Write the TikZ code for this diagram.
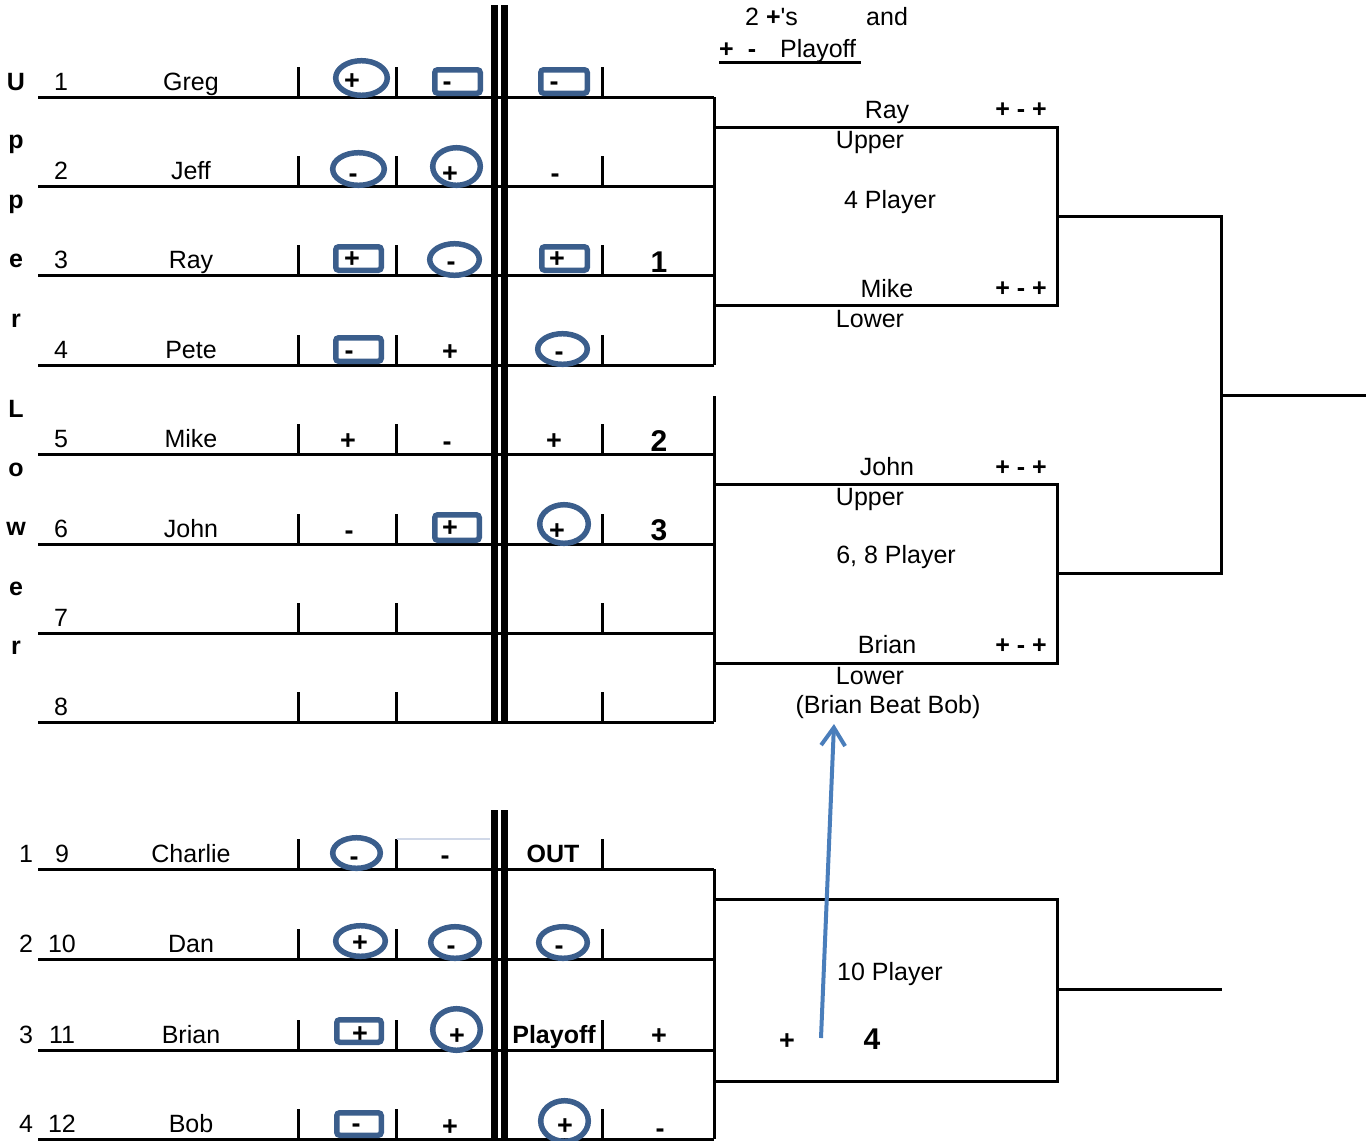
\documentclass[tikz,border=0pt]{standalone}
\usepackage{fontspec}
\setmainfont{Liberation Sans}[Ligatures=TeXOff]
\usetikzlibrary{arrows.meta}
\definecolor{mk}{RGB}{59,94,140}
\definecolor{arr}{RGB}{74,126,187}
\definecolor{faint}{RGB}{208,216,232}
\begin{document}
\begin{tikzpicture}[x=1pt,y=-1pt,
  txt/.style={font=\fontsize{25}{30}\selectfont, inner sep=0pt, anchor=base},
  btxt/.style={font=\fontsize{25}{30}\selectfont\bfseries, inner sep=0pt, anchor=base},
  sgnt/.style={font=\fontsize{27}{32}\selectfont\bfseries, inner sep=0pt, anchor=base},
  bnum/.style={font=\fontsize{30}{36}\selectfont\bfseries, inner sep=0pt, anchor=base},
  rl/.style={line width=3pt},
  thickbar/.style={line width=7pt},
  ring/.style={draw=mk, line width=5.5pt},
  sq/.style={draw=mk, line width=5.5pt, rounded corners=3pt},
]
\useasboundingbox (0,0) rectangle (1366,1141);

% ---------- upper group rows ----------
\foreach \y/\n/\nm in {97/1/Greg,186/2/Jeff,275/3/Ray,365/4/Pete,454/5/Mike,544/6/John,633/7/,722/8/}{
  \draw[rl] (38,\y) -- (714,\y);
  \foreach \x in {298,396,602} \draw[rl] (\x,{\y-30}) -- (\x,\y);
  \node[txt] (num\n) at (61,{\y-7}) {\n};
  \node[txt] (name\n) at (191,{\y-7}) {\nm};
}
% ---------- lower group rows ----------
\foreach \y/\k/\n/\nm in {869/1/9/Charlie,959/2/10/Dan,1050/3/11/Brian,1139/4/12/Bob}{
  \draw[rl] (38,\y) -- (714,\y);
  \foreach \x in {298,396,602} \draw[rl] (\x,{\y-30}) -- (\x,\y);
  \node[txt] (seed\k) at (26,{\y-7}) {\k};
  \node[txt] (num\n) at (62,{\y-7}) {\n};
  \node[txt] (name\n) at (191,{\y-7}) {\nm};
}
\draw[faint, line width=2pt] (397,839) -- (490,839);

% side letters
\foreach \l/\yy [count=\i] in {U/90,p/148,p/208,e/267,r/327,L/417,o/476,w/535,e/595,r/654}
  \node[btxt] (side\i) at (16,\yy) {\l};

% double thick bars
\draw[thickbar] (494,5) -- (494,722);
\draw[thickbar] (504,5) -- (504,722);
\draw[thickbar] (494,810) -- (494,1141);
\draw[thickbar] (504,810) -- (504,1141);

% right vertical of the tables
\draw[rl] (714,97) -- (714,365);
\draw[rl] (714,396) -- (714,722);
\draw[rl] (714,869) -- (714,1139);

% ---------- circles ----------
\foreach \cx/\cy/\rx/\ry in {361.5/78/25.8/17.3, 358.5/169/25.8/16.3, 456.5/166.5/23.8/18.8,
  454.5/259.5/24.8/15.8, 562.5/349/24.8/15.3, 564/524/24.3/19.3, 356.5/853/23.8/15.3,
  360.5/941/24.8/15.3, 455/942.5/24.3/15.8, 563/942.5/24.3/15.8, 456.5/1029.5/23.8/20.8,
  564.5/1121/23.8/20.3}
  \draw[ring] (\cx,\cy) ellipse [x radius=\rx, y radius=\ry];
% ---------- boxes ----------
\foreach \xa/\ya/\xb/\yb in {432/67/483/96, 538/67/590/96, 333/244/384/273, 539/244/590/273,
  333/335/384/364, 432/512/482/543, 334/1017/384/1045, 334/1110/384/1138}
  \draw[sq] ({\xa+2.75},{\ya+2.75}) rectangle ({\xb-2.75},{\yb-2.75});

% ---------- signs ----------
\foreach \x/\y [count=\i] in {352/80, 450/173, 352/258, 557/258, 450/351, 348/440, 554/440,
  450/527, 557/530, 360/942, 360/1033, 457/1035, 659/1035, 450/1126, 565/1125}
  \node[sgnt] (plus\i) at (\x,{\y+9.5}) {+};
\foreach \x/\y [count=\i] in {447/83, 554/83, 353/175, 555/175, 451/263, 349/352, 559/353,
  447/443, 349/532, 354/858, 445/857, 451/947, 559/947, 356/1125, 660/1130}
  \node[sgnt] (minus\i) at (\x,{\y+7}) {-};

\node[bnum] (rank1) at (659,272) {1};
\node[bnum] (rank2) at (659,451) {2};
\node[bnum] (rank3) at (659,540) {3};
\node[btxt] (out) at (553,862) {OUT};
\node[btxt] (playoffB) at (554,1043) {Playoff};

% ---------- header ----------
\node[txt, anchor=base west] (twoplus) at (745,25) {2 \textbf{+}'s};
\node[txt, anchor=base west] (and) at (866,25) {and};
\node[txt, anchor=base west] (pmplay) at (719,57) {\textbf{+}\hspace{14pt}\textbf{-}\hspace{24pt}Playoff};
\draw[line width=3pt] (719,62) -- (861,62);

% ---------- bracket boxes ----------
\draw[rl] (714,127) -- (1057,127) -- (1057,305) -- (714,305);
\draw[rl] (714,484) -- (1057,484) -- (1057,663) -- (714,663);
\draw[rl] (714,899) -- (1057,899) -- (1057,1081) -- (714,1081);
\draw[rl] (1057,216) -- (1221,216) -- (1221,573) -- (1057,573);
\draw[rl] (1221,395) -- (1366,395);
\draw[rl] (1057,989) -- (1222,989);

% box 1 texts
\node[txt] (ray) at (887,118) {Ray};
\node[btxt] (raypm) at (1021,117) {+ - +};
\node[txt] (up1) at (870,148) {Upper};
\node[txt] (four) at (890,208) {4 Player};
\node[txt] (mike) at (887,297) {Mike};
\node[btxt] (mikepm) at (1021,296) {+ - +};
\node[txt] (low1) at (870,327) {Lower};
% box 2 texts
\node[txt] (john) at (887,475) {John};
\node[btxt] (johnpm) at (1021,475) {+ - +};
\node[txt] (up2) at (870,505) {Upper};
\node[txt] (six) at (896,563) {6, 8 Player};
\node[txt] (brian) at (887,653) {Brian};
\node[btxt] (brianpm) at (1021,653) {+ - +};
\node[txt] (low2) at (870,684) {Lower};
\node[txt] (beat) at (888,713) {(Brian Beat Bob)};
% box 3 texts
\node[txt] (ten) at (890,980) {10 Player};
\node[sgnt] (plusbox) at (787,1049.5) {+};
\node[bnum] (rank4) at (872,1049) {4};

% arrow
\coordinate (arrS) at (821,1038);
\coordinate (arrE) at (834,724);
\draw[arr, line width=4pt, -{Straight Barb[length=18pt,width=24pt,line width=4pt]}] (arrS) -- (arrE);
\end{tikzpicture}
\end{document}
